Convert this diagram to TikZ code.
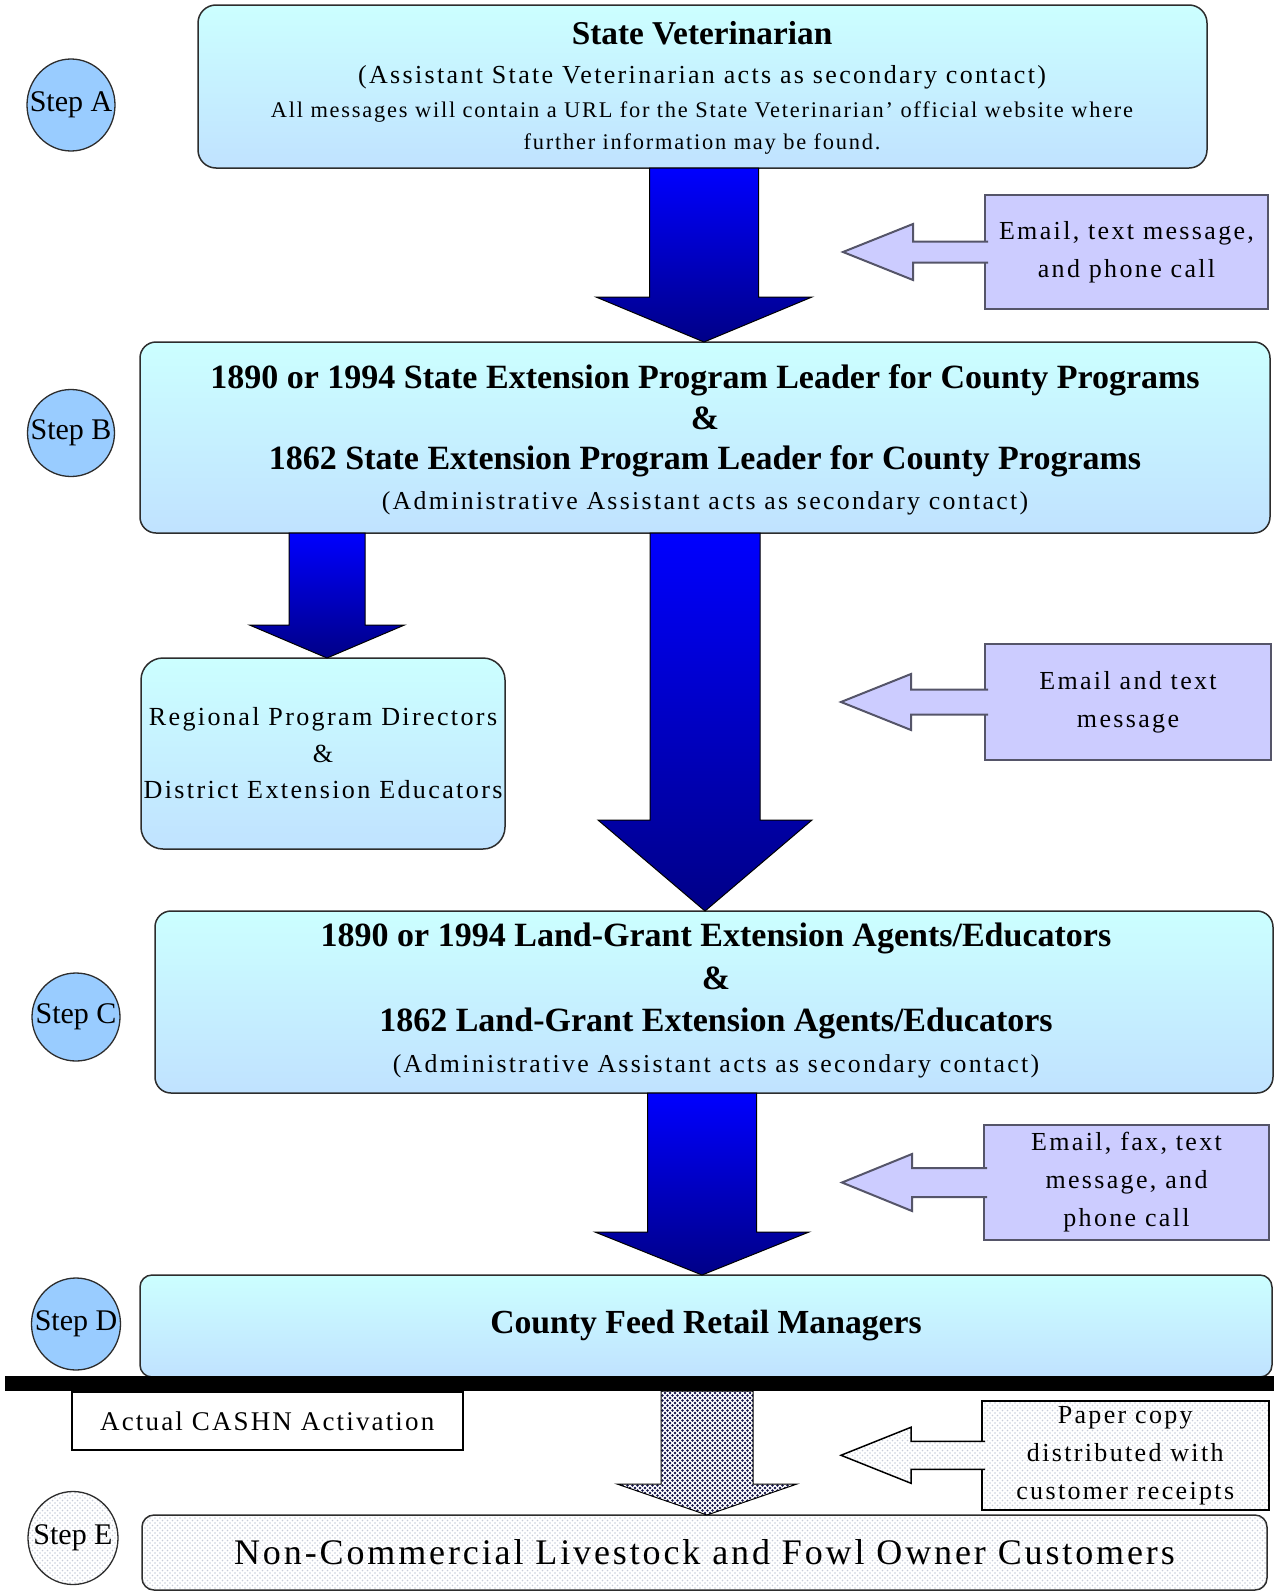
\documentclass[tikz,border=0pt]{standalone}
\usepackage{fontspec}
\setmainfont{Liberation Serif}
\newfontfamily\wideA[LetterSpace=9]{Liberation Serif}
\newfontfamily\wideB[LetterSpace=8]{Liberation Serif}
\usetikzlibrary{shapes.geometric,calc,patterns.meta}
\definecolor{boxtop}{RGB}{204,255,255}
\definecolor{boxbot}{RGB}{192,226,255}
\definecolor{stepfill}{RGB}{153,204,255}
\definecolor{sidefill}{RGB}{204,204,255}
\definecolor{sideline}{RGB}{85,85,105}
\definecolor{boxline}{RGB}{45,45,45}
\definecolor{arrtop}{RGB}{0,0,255}
\definecolor{arrbot}{RGB}{0,0,135}
\definecolor{navydot}{RGB}{20,20,75}
\definecolor{lightdot}{RGB}{200,205,218}
\tikzset{
  boxshape/.style={draw=boxline,line width=1.5pt,rounded corners=16pt,
    anchor=north west,inner sep=0pt,outer sep=0pt,align=center},
  mainbox/.style={boxshape,top color=boxtop,bottom color=boxbot},
  stepnode/.style={ellipse,draw=boxline,line width=1.3pt,inner sep=0pt,
    font=\fontsize{30}{31}\selectfont},
  sidebox/.style={draw=sideline,line width=2pt,anchor=north west,inner sep=0pt,
    align=center,font=\wideA\fontsize{26}{38}\selectfont},
  sidearr/.style={draw=sideline,line width=2pt,fill=sidefill,line join=miter},
  bluearr/.style={draw=black,line width=1pt,top color=arrtop,bottom color=arrbot},
  dotarr/.style={draw=black,line width=1pt,preaction={fill=white},
    preaction={pattern={Dots[distance=5pt,radius=1.4pt]},pattern color=navydot},
    pattern={Dots[distance=5pt,radius=1.4pt,xshift=2.5pt,yshift=2.5pt]},pattern color=navydot},
  dotfill/.style={preaction={fill=white},
    preaction={pattern={Dots[distance=5pt,radius=0.9pt]},pattern color=lightdot},
    pattern={Dots[distance=5pt,radius=0.9pt,xshift=2.5pt,yshift=2.5pt]},pattern color=lightdot},
  boldtxt/.style={font=\bfseries\fontsize{34}{36}\selectfont,anchor=mid},
  subtxt/.style={font=\wideA\fontsize{25.8}{27}\selectfont,anchor=mid},
}
% block arrow pointing down: style, from node, to node, x centre, shaft half, head half, head length
\newcommand{\blkdown}[7]{%
  \path[#1] let \p1=(#2.south), \p2=(#3.north) in
    ({#4pt-#5pt},\y1) -- ({#4pt+#5pt},\y1) -- ({#4pt+#5pt},{\y2+#7pt}) -- ({#4pt+#6pt},{\y2+#7pt})
    -- (#4pt,\y2) -- ({#4pt-#6pt},{\y2+#7pt}) -- ({#4pt-#5pt},{\y2+#7pt}) -- cycle;}
% side arrow pointing left: style, box node, tip coordinate, head base x, head half, shaft half
\newcommand{\sidearrow}[6]{%
  \path[#1] let \p1=(#2.west), \p2=(#3) in
    ({\x1+4pt},{\y1+#6pt}) -- (#4pt,{\y1+#6pt}) -- (#4pt,{\y1+#5pt}) -- (\x2,\y1)
    -- (#4pt,{\y1-#5pt}) -- (#4pt,{\y1-#6pt}) -- ({\x1+4pt},{\y1-#6pt});}
\newcommand{\steplabel}[1]{\makebox[0pt]{#1}}
\begin{document}
\begin{tikzpicture}[x=1pt,y=-1pt]
\useasboundingbox[fill=white] (0,0) rectangle (1274,1593);

% ---------- Step A ----------
\node[mainbox,rounded corners=18pt,minimum width=1009pt,minimum height=163pt] (boxA) at (198,5) {};
\node[boldtxt,font=\bfseries\fontsize{33.3}{36}\selectfont] (tA1) at (702,42) {State Veterinarian};
\node[subtxt,font=\wideA\fontsize{26}{27}\selectfont] (tA2) at (702,81) {(Assistant State Veterinarian acts as secondary contact)};
\node[font=\wideB\fontsize{22.4}{24}\selectfont,anchor=mid] (tA3) at (702,115)
  {All messages will contain a URL for the State Veterinarian’ official website where};
\node[font=\wideB\fontsize{22.4}{24}\selectfont,anchor=mid] (tA4) at (702,147)
  {further information may be found.};
\node[stepnode,fill=stepfill,minimum width=88pt,minimum height=92pt] (sA) at (71,105) {\steplabel{Step A}};

% ---------- Step B ----------
\node[mainbox,minimum width=1130pt,minimum height=191pt] (boxB) at (140,342) {};
\node[boldtxt] (tB1) at (705,386) {1890 or 1994 State Extension Program Leader for County Programs};
\node[boldtxt] (tB2) at (705,427) {\&};
\node[boldtxt] (tB3) at (705,467) {1862 State Extension Program Leader for County Programs};
\node[subtxt] (tB4) at (705,507) {(Administrative Assistant acts as secondary contact)};
\node[stepnode,fill=stepfill,minimum width=87pt,minimum height=87pt] (sB) at (71,433) {\steplabel{Step B}};

\node[mainbox,rounded corners=22pt,minimum width=364pt,minimum height=191pt,
  font=\wideA\fontsize{26.1}{36.5}\selectfont] (reg) at (141,658)
  {Regional Program Directors\\\&\\District Extension Educators};

% ---------- Step C ----------
\node[mainbox,minimum width=1118pt,minimum height=182pt] (boxC) at (155,911) {};
\node[boldtxt] (tC1) at (716,944) {1890 or 1994 Land-Grant Extension Agents/Educators};
\node[boldtxt] (tC2) at (716,987) {\&};
\node[boldtxt] (tC3) at (716,1029) {1862 Land-Grant Extension Agents/Educators};
\node[subtxt] (tC4) at (716,1070) {(Administrative Assistant acts as secondary contact)};
\node[stepnode,fill=stepfill,minimum width=88pt,minimum height=88pt] (sC) at (76,1017) {\steplabel{Step C}};

% ---------- Step D ----------
\node[mainbox,rounded corners=12pt,minimum width=1132pt,minimum height=102pt,
  font=\bfseries\fontsize{33.7}{36}\selectfont] (boxD) at (140,1275) {County Feed Retail Managers};
\node[stepnode,fill=stepfill,minimum width=89pt,minimum height=92pt] (sD) at (76,1324) {\steplabel{Step D}};

% ---------- separator ----------
\node[fill=black,minimum width=1269pt,minimum height=15pt,inner sep=0pt,outer sep=0pt,anchor=north west] (bar) at (5,1376) {};
\node[draw=black,line width=1.5pt,fill=white,minimum width=391pt,minimum height=58pt,inner sep=0pt,
  anchor=north west,font=\wideB\fontsize{27}{28}\selectfont] (cashn) at (71,1391) {Actual CASHN Activation};

% ---------- Step E ----------
\node[boxshape,rounded corners=12pt,dotfill,minimum width=1125pt,minimum height=75pt,
  font=\wideB\fontsize{36}{37}\selectfont] (boxE) at (142,1515) {Non-Commercial Livestock and Fowl Owner Customers};
\node[stepnode,dotfill,minimum width=90pt,minimum height=93pt] (sE) at (73,1538) {\steplabel{Step E}};

% ---------- side boxes ----------
\coordinate (tip1) at (843,251);
\coordinate (tip2) at (841,701);
\coordinate (tip3) at (842,1181);
\coordinate (tip4) at (841,1454);
\node[sidebox,fill=sidefill,minimum width=283pt,minimum height=114pt] (s1) at (984,194) {Email, text message,\\and phone call};
\node[sidebox,fill=sidefill,minimum width=286pt,minimum height=116pt] (s2) at (984,643) {Email and text\\message};
\node[sidebox,fill=sidefill,minimum width=285pt,minimum height=115pt] (s3) at (983,1124) {Email, fax, text\\message, and\\phone call};
\node[sidebox,draw=black,line width=1.5pt,dotfill,minimum width=287pt,minimum height=109pt] (s4) at (981,1400)
  {Paper copy\\distributed with\\customer receipts};

\sidearrow{sidearr}{s1}{tip1}{913}{28}{10.5}
\sidearrow{sidearr}{s2}{tip2}{911}{28}{12.5}
\sidearrow{sidearr}{s3}{tip3}{912}{28.5}{14.5}
\sidearrow{draw=black,line width=1.5pt,dotfill,line join=miter}{s4}{tip4}{911}{28}{14}

% ---------- main block arrows ----------
\blkdown{bluearr}{boxA}{boxB}{704}{54.5}{108}{45}
\blkdown{bluearr}{boxB}{reg}{327}{38}{77.5}{33}
\blkdown{bluearr}{boxB}{boxC}{705}{55}{107}{91}
\blkdown{bluearr}{boxC}{boxD}{702}{54.5}{107}{43}
\blkdown{dotarr}{bar}{boxE}{707}{46}{90}{31}
\end{tikzpicture}
\end{document}
